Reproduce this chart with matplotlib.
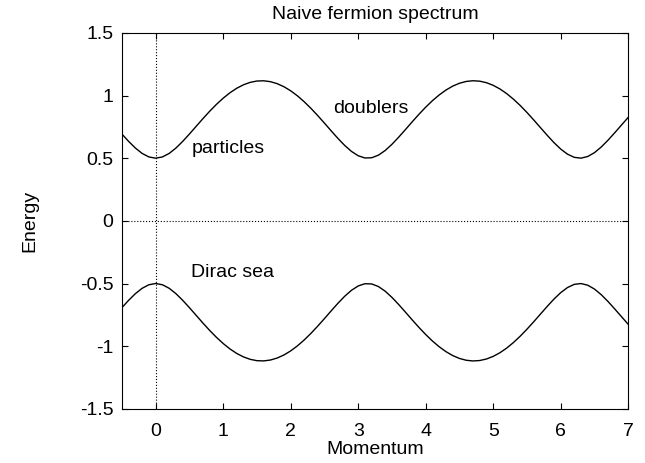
import matplotlib
matplotlib.use("Agg")
import matplotlib.pyplot as plt

# --- Dados --------------------------------------
momentum = [round(-0.5 + 0.1 * i, 1) for i in range(76)]

# ramo de energia positiva (particulas / doublers)
energy_upper = [
    0.6927, 0.6338, 0.5808, 0.5380, 0.5099, 0.5000, 0.5099, 0.5380, 0.5808, 0.6338,
    0.6927, 0.7542, 0.8155, 0.8744, 0.9293, 0.9788, 1.0219, 1.0577, 1.0856, 1.1050,
    1.1158, 1.1176, 1.1106, 1.0947, 1.0703, 1.0377, 0.9975, 0.9506, 0.8978, 0.8404,
    0.7799, 0.7181, 0.6578, 0.6018, 0.5543, 0.5195, 0.5017, 0.5034, 0.5243, 0.5615,
    0.6108, 0.6677, 0.7285, 0.7902, 0.8504, 0.9071, 0.9590, 1.0048, 1.0437, 1.0750,
    1.0980, 1.1124, 1.1180, 1.1146, 1.1024, 1.0814, 1.0522, 1.0152, 0.9709, 0.9204,
    0.8647, 0.8053, 0.7438, 0.6826, 0.6243, 0.5728, 0.5322, 0.5069, 0.5003, 0.5134,
    0.5443, 0.5891, 0.6433, 0.7029, 0.7646, 0.8256,
]
# ramo de energia negativa (mar de Dirac), espelho do superior
energy_lower = [-e for e in energy_upper]

x_ticks = [0, 1, 2, 3, 4, 5, 6, 7]
y_ticks = [-1.5, -1, -0.5, 0, 0.5, 1, 1.5]
y_tick_labels = ["-1.5", "-1", "-0.5", "0", "0.5", "1", "1.5"]

plt.rcParams["font.family"] = ["Liberation Sans", "DejaVu Sans"]
FS = 14

fig = plt.figure(figsize=(6.45, 4.63), dpi=100)
ax = fig.add_axes([0.189, 0.117, 0.785, 0.812])

ax.plot(momentum, energy_upper, color="black", linewidth=1.0)
ax.plot(momentum, energy_lower, color="black", linewidth=1.0)
ax.axvline(0, color="black", linestyle=":", linewidth=0.8)
ax.axhline(0, color="black", linestyle=":", linewidth=0.8)

ax.set_xlim(-0.5, 7)
ax.set_ylim(-1.5, 1.5)
ax.set_xticks(x_ticks)
ax.set_yticks(y_ticks)
ax.set_yticklabels(y_tick_labels)
ax.tick_params(direction="in", top=True, right=True, length=4, labelsize=FS)
ax.tick_params(axis="x", pad=10)
ax.tick_params(axis="y", pad=6)

ax.text(0.53, 0.58, "particles", fontsize=FS, va="center")
ax.text(2.63, 0.90, "doublers", fontsize=FS, va="center")
ax.text(0.53, -0.41, "Dirac sea", fontsize=FS, va="center")

ax.set_title("Naive fermion spectrum", fontsize=FS, pad=10)
ax.set_xlabel("Momentum", fontsize=FS)
ax.set_ylabel("Energy", fontsize=FS)
ax.xaxis.set_label_coords(0.5, -0.085)
ax.yaxis.set_label_coords(-0.165, 0.5)

fig.savefig("out.png", dpi=100)
